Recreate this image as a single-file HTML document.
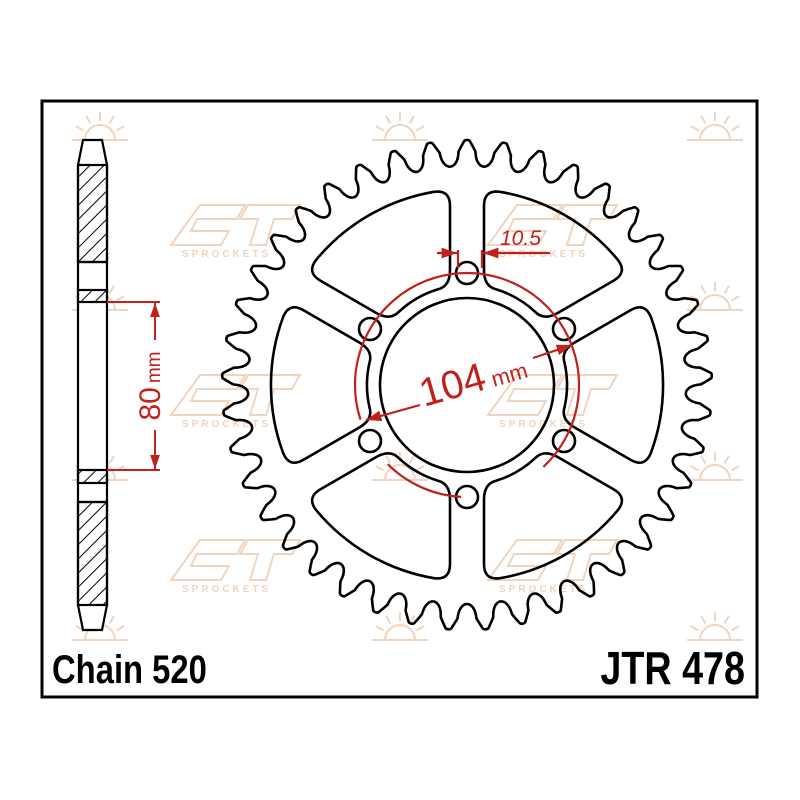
<!DOCTYPE html>
<html><head><meta charset="utf-8"><style>
html,body{margin:0;padding:0;background:#fff;}
svg{display:block;}
</style></head><body>
<svg id="s" width="800" height="800" viewBox="0 0 800 800" xmlns="http://www.w3.org/2000/svg">
<defs>
<pattern id="hatch" patternUnits="userSpaceOnUse" width="10" height="10" patternTransform="rotate(45)">
<line x1="0" y1="0" x2="0" y2="10" stroke="#000" stroke-width="2"/>
</pattern>
<marker id="ar" viewBox="0 0 10 10" refX="10" refY="5" markerWidth="7" markerHeight="7" orient="auto-start-reverse"><path d="M0,1.5 L10,5 L0,8.5 z" fill="#c0211c"/></marker>
</defs>
<rect width="800" height="800" fill="#fff"/>
<g id="wm" fill="none" stroke="#f0cfb8" stroke-width="2" opacity="0.9"></g>
<rect x="42" y="101" width="715" height="596" fill="none" stroke="#000" stroke-width="3"/>

<!-- side profile -->
<g stroke="#000" stroke-width="2.2" fill="none">
<path d="M83,140 L102,140 L107,165 L107,605 L102,630 L83,630 L78,605 L78,165 Z" fill="#fff"/>
<rect x="78" y="165" width="29" height="97" fill="url(#hatch)"/>
<rect x="78" y="290" width="29" height="12" fill="url(#hatch)"/>
<rect x="78" y="470" width="29" height="13" fill="url(#hatch)"/>
<rect x="78" y="502" width="29" height="103" fill="url(#hatch)"/>
<line x1="78" y1="262" x2="107" y2="262"/>
<line x1="78" y1="502" x2="107" y2="502"/>
</g>
<g stroke="#c0211c" stroke-width="2" fill="none">
<line x1="107" y1="302" x2="160" y2="302"/>
<line x1="107" y1="470" x2="160" y2="470"/>
<line x1="155" y1="340" x2="155" y2="303" marker-end="url(#ar)"/>
<line x1="155" y1="430" x2="155" y2="469" marker-end="url(#ar)"/>
</g>
<text transform="translate(160,386) rotate(-90)" text-anchor="middle" font-family="Liberation Sans, sans-serif" fill="#c0211c"><tspan font-size="30">80</tspan><tspan font-size="19" dx="4">mm</tspan></text>

<g id="spr" stroke="#000" stroke-width="2.6" fill="none"></g>

<!-- red dims -->
<g stroke="#c0211c" stroke-width="2.2" fill="none" id="red">
<line x1="458" y1="250" x2="458" y2="268"/>
<line x1="482" y1="250" x2="482" y2="268"/>
<line x1="437" y1="253" x2="457" y2="253" marker-end="url(#ar)"/>
<line x1="550" y1="253" x2="483" y2="253" marker-end="url(#ar)"/>
<line x1="420" y1="405" x2="366" y2="420" marker-end="url(#ar)"/>
<line x1="533" y1="358" x2="572" y2="345" marker-end="url(#ar)"/>
</g>
<text x="500" y="245" font-family="Liberation Sans, sans-serif" font-style="italic" font-size="21" fill="#c0211c">10.5</text>
<text transform="translate(424,407) rotate(-16)" font-family="Liberation Sans, sans-serif" fill="#c0211c"><tspan font-size="40">104</tspan><tspan font-size="22" dx="6">mm</tspan></text>

<text transform="translate(52,683) scale(0.82,1)" font-family="Liberation Sans, sans-serif" font-weight="bold" font-size="40" fill="#000">Chain 520</text>
<text transform="translate(745,684) scale(0.82,1)" text-anchor="end" font-family="Liberation Sans, sans-serif" font-weight="bold" font-size="46" fill="#000">JTR 478</text>
</svg>
<script>
(function(){
var NS="http://www.w3.org/2000/svg";
var cx=467,cy=385;
var g=document.getElementById('spr');
function el(t,a,p){var e=document.createElementNS(NS,t);for(var k in a)e.setAttribute(k,a[k]);(p||g).appendChild(e);return e;}
// teeth
var N=41,Rt=245,Rr=219,pts=[];
var M=N*60;
for(var i=0;i<M;i++){
 var s=i/60; var d=Math.abs(s-Math.round(s));
 var f;
 if(d>0.24){var v=(0.5-d)/0.26;f=(1-Math.sqrt(Math.max(0,1-v*v)))*0.55;}
 else if(d>0.08){var u=(d-0.08)/0.16;f=0.55+0.4*(1-u);}
 else{var u=d/0.08;f=0.95+0.05*Math.sqrt(Math.max(0,1-u*u));}
 var r=Rr+(Rt-Rr)*f;
 var a=-Math.PI/2+s*2*Math.PI/N;
 pts.push((cx+r*Math.cos(a)).toFixed(1)+","+(cy+r*Math.sin(a)).toFixed(1));
}
el('path',{d:"M"+pts.join(" L")+" Z"});
// hub
el('circle',{cx:cx,cy:cy,r:87});
// bolt holes
for(var k=0;k<6;k++){var a=(-90+60*k)*Math.PI/180;el('circle',{cx:cx+112*Math.cos(a),cy:cy+112*Math.sin(a),r:11});}
// windows
var w=17,Rin=100,Rout=196,rc=16;
function P(r,a){return [cx+r*Math.cos(a),cy+r*Math.sin(a)];}
for(var k=0;k<6;k++){
 var th=(-60+60*k)*Math.PI/180;
 var p1=th-Math.PI/6,p2=th+Math.PI/6;
 function lp(phi,sgn,R){var t=Math.sqrt(R*R-w*w);var ux=Math.cos(phi),uy=Math.sin(phi);var nx=-uy*sgn,ny=ux*sgn;return [cx+t*ux+w*nx,cy+t*uy+w*ny];}
 var A=lp(p1,1,Rin),B=lp(p1,1,Rout),C=lp(p2,-1,Rout),D=lp(p2,-1,Rin);
 function ang(p){return Math.atan2(p[1]-cy,p[0]-cx);}
 function toward(p,q,dd){var dx=q[0]-p[0],dy=q[1]-p[1],l=Math.hypot(dx,dy);return [p[0]+dx/l*dd,p[1]+dy/l*dd];}
 var aB=ang(B),aC=ang(C),aA=ang(A),aD=ang(D);
 var B1=toward(B,A,rc),B2=P(Rout,aB+rc/Rout);
 var C1=P(Rout,aC-rc/Rout),C2=toward(C,D,rc);
 var D1=toward(D,C,rc),D2=P(Rin,aD-rc/Rin*0.8);
 var A1=P(Rin,aA+rc/Rin*0.8),A2=toward(A,B,rc);
 function f(p){return p[0].toFixed(1)+","+p[1].toFixed(1);}
 var d="M"+f(A2)+" L"+f(B1)+" Q"+f(B)+" "+f(B2)+" A"+Rout+","+Rout+" 0 0 1 "+f(C1)+" Q"+f(C)+" "+f(C2)+" L"+f(D1)+" Q"+f(D)+" "+f(D2)+" A"+Rin+","+Rin+" 0 0 0 "+f(A1)+" Q"+f(A)+" "+f(A2)+" Z";
 el('path',{d:d});
}
// red arcs
var red=document.getElementById('red');
function arc(a1,a2,r){var p=P(r,a1*Math.PI/180),q=P(r,a2*Math.PI/180);var large=(a2-a1)>180?1:0;el('path',{d:"M"+p[0]+","+p[1]+" A"+r+","+r+" 0 "+large+" 1 "+q[0]+","+q[1]},red);}
arc(162,407,112);
arc(93,135,112);
// watermarks
var wm=document.getElementById('wm');
var logos=[[180,205],[497,205],[180,375],[497,375],[180,540],[497,540]];
logos.forEach(function(p){
 var x=p[0],y=p[1];
 el('path',{d:"M"+(x+20)+","+y+" h45 l-8,14 h-40 l-6,12 h38 l-8,14 h-50 z M"+(x+68)+","+y+" h52 l-8,14 h-18 l-8,26 h-16 l8,-26 h-18 z"},wm);
 var t=el('text',{x:x+2,y:y+52,'font-family':'Liberation Sans, sans-serif','font-size':'10','font-weight':'bold',fill:'#f0cfb8',stroke:'none','letter-spacing':'3'},wm);t.textContent="SPROCKETS";
});
var suns=[[100,140],[400,140],[715,140],[100,310],[715,310],[400,480],[715,480],[100,480],[400,640],[715,640],[100,640]];
suns.forEach(function(p){
 var x=p[0],y=p[1];
 el('path',{d:"M"+(x-15)+","+y+" A15,15 0 0 1 "+(x+15)+","+y+" M"+(x-28)+","+y+" H"+(x+28)},wm);
 for(var i=0;i<7;i++){var a=Math.PI+i*Math.PI/6;el('line',{x1:x+19*Math.cos(a),y1:y+19*Math.sin(a),x2:x+28*Math.cos(a),y2:y+28*Math.sin(a)},wm);}
});
})();
</script>
</body></html>
